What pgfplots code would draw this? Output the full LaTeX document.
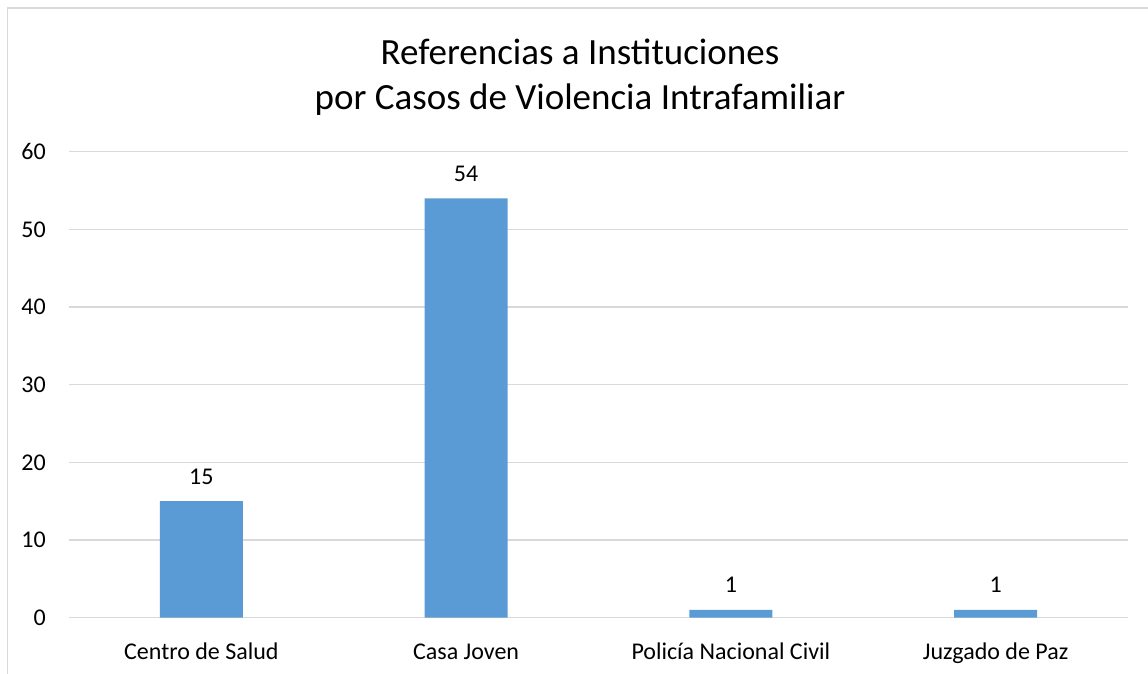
\documentclass[border=0pt]{standalone}
\usepackage{pgfplots}
\pgfplotsset{compat=1.18}
\usepackage{fontspec}
\setmainfont{Carlito}
\definecolor{barblue}{HTML}{5B9BD5}
\definecolor{gridgray}{HTML}{D9D9D9}
\definecolor{bordergray}{HTML}{D9D9D9}
\begin{document}
\begin{tikzpicture}[x=1pt,y=1pt]
\path[use as bounding box] (0,0) rectangle (1148,674);
\draw[bordergray, line width=1.2pt] (7.5,0) -- (7.5,666) -- (1148,666);
\node[anchor=base, font=\fontsize{37}{44}\selectfont] at (580,609) {Referencias a Instituciones};
\node[anchor=base, font=\fontsize{37}{44}\selectfont] at (580,564) {por Casos de Violencia Intrafamiliar};
\begin{axis}[
  at={(69pt,56.3pt)}, anchor=south west,
  scale only axis, width=1059pt, height=466pt,
  xmin=-0.5, xmax=3.5, ymin=0, ymax=60,
  ytick={0,10,...,60},
  xtick={0,1,2,3},
  xticklabels={Centro de Salud, Casa Joven, Policía Nacional Civil, Juzgado de Paz},
  /pgf/number format/assume math mode=true,
  axis line style={draw=none},
  tick style={draw=none},
  ymajorgrids, grid style={gridgray, line width=1.2pt},
  ticklabel style={font=\fontsize{24}{28}\selectfont},
  xticklabel style={anchor=base, yshift=-38pt},
  yticklabel style={anchor=east, inner sep=0pt, xshift=-23pt},
  ybar, bar width=83pt,
  nodes near coords,
  every node near coord/.append style={anchor=base, yshift=17pt, font=\fontsize{24}{28}\selectfont, black},
]
\addplot[fill=barblue, draw=none] coordinates {(0,15) (1,54) (2,1) (3,1)};
\end{axis}
\end{tikzpicture}
\end{document}
